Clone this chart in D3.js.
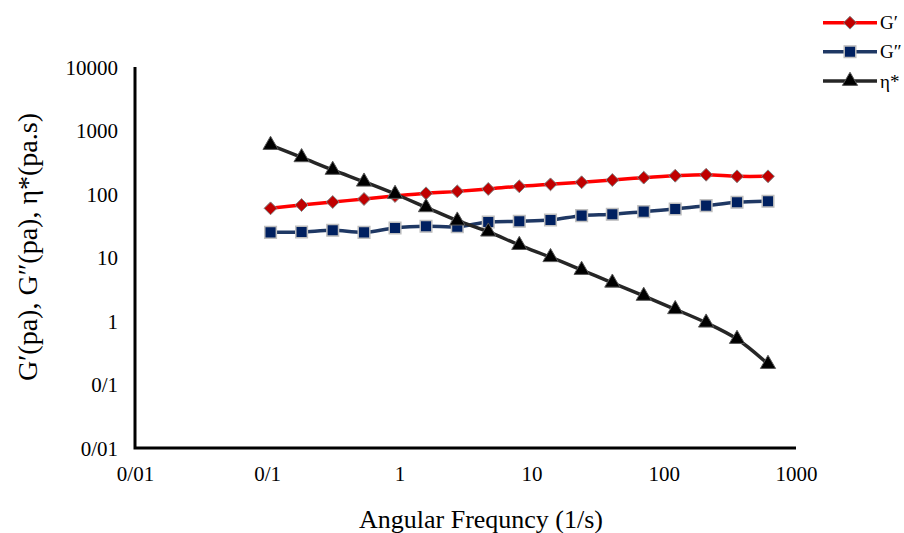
<!DOCTYPE html>
<html>
<head>
<meta charset="utf-8">
<script src="https://cdn.jsdelivr.net/npm/d3@7"></script>
<style>
  html, body { margin: 0; padding: 0; background: #fff; }
  svg { display: block; }
  text { font-family: "Liberation Serif", "Times New Roman", serif; fill: #000; }
</style>
</head>
<body>
<svg id="chart" width="904" height="533"></svg>
<script>
// ---- data ----
const frequency = [0.106, 0.182, 0.313, 0.54, 0.927, 1.59, 2.74, 4.7, 8.07, 13.9, 23.9, 40.8, 70.5, 122, 209, 358, 614];
const gPrime = [59.5, 67.1, 74.8, 83.4, 93, 102.6, 110, 120, 132, 142, 153, 166, 181, 194, 201, 190, 190];
const gDoublePrime = [24.9, 25.2, 26.8, 24.9, 29.2, 31.0, 30.5, 36.2, 37.2, 39.0, 45.6, 47.9, 52.7, 58.0, 65.5, 74.0, 76.8];
const etaStar = [591, 378, 239, 156, 100, 61.7, 38, 25.5, 15.7, 10.1, 6.35, 4.0, 2.48, 1.53, 0.94, 0.52, 0.21];
const seriesNames = ["G\u2032", "G\u2033", "\u03b7*"];
const xTickValues = [0.01, 0.1, 1, 10, 100, 1000];
const xTickLabels = ["0/01", "0/1", "1", "10", "100", "1000"];
const yTickValues = [0.01, 0.1, 1, 10, 100, 1000, 10000];
const yTickLabels = ["0/01", "0/1", "1", "10", "100", "1000", "10000"];
const xTitle = "Angular Frequncy (1/s)";
const yTitle = "G\u2032(pa), G\u2033(pa), \u03b7*(pa.s)";

// ---- layout ----
const svg = d3.select("#chart");
const pLeft = 135, pRight = 796, pTop = 67, pBottom = 448;
const x = d3.scaleLog().domain([0.01, 1000]).range([pLeft, pRight]);
const y = d3.scaleLog().domain([0.01, 10000]).range([pBottom, pTop]);

const styles = [
  { values: gPrime, line: "#ff0000", fill: "#c00000", stroke: "#7f7f7f", shape: d3.symbolDiamond2, size: 105, sw: 1 },
  { values: gDoublePrime, line: "#1f3864", fill: "#002060", stroke: "#bfbfbf", shape: d3.symbolSquare, size: 135, sw: 1.5 },
  { values: etaStar, line: "#262626", fill: "#000000", stroke: "#595959", shape: d3.symbolTriangle, size: 100, sw: 1 }
];

// axes (labels only, no ticks)
const xAxis = d3.axisBottom(x).tickValues(xTickValues)
  .tickFormat((d, i) => xTickLabels[i]).tickSize(0).tickPadding(0);
const gx = svg.append("g").attr("transform", `translate(0,${pBottom})`).call(xAxis);
gx.select(".domain").remove();
gx.selectAll("text").attr("font-size", 21).attr("font-family", "Liberation Serif, Times New Roman, serif")
  .attr("dy", null).attr("y", 33).attr("fill", "#000");

const yAxis = d3.axisLeft(y).tickValues(yTickValues)
  .tickFormat((d, i) => yTickLabels[i]).tickSize(0).tickPadding(0);
const gy = svg.append("g").attr("transform", `translate(${pLeft},0)`).call(yAxis);
gy.select(".domain").remove();
gy.selectAll("text").attr("font-size", 21).attr("font-family", "Liberation Serif, Times New Roman, serif")
  .attr("x", -17).attr("dy", "0.35em").attr("fill", "#000");

// axis lines
svg.append("path")
  .attr("d", `M${pLeft},${pTop}V${pBottom}H${pRight}`)
  .attr("fill", "none").attr("stroke", "#000").attr("stroke-width", 3)
  .attr("stroke-linejoin", "miter");

// series
styles.forEach((s) => {
  const pts = frequency.map((f, i) => [x(f), y(s.values[i])]);
  svg.append("path")
    .attr("d", d3.line().curve(d3.curveCatmullRom.alpha(0.5))(pts))
    .attr("fill", "none").attr("stroke", s.line).attr("stroke-width", 3.5);
  svg.append("g").selectAll("path").data(pts).join("path")
    .attr("transform", d => `translate(${d[0]},${d[1]})`)
    .attr("d", d3.symbol().type(s.shape).size(s.size))
    .attr("fill", s.fill).attr("stroke", s.stroke).attr("stroke-width", s.sw);
});

// legend
const legendY = [22.7, 51.7, 81];
styles.forEach((s, i) => {
  const g = svg.append("g").attr("transform", `translate(0,${legendY[i]})`);
  g.append("line").attr("x1", 823).attr("x2", 877).attr("y1", 0).attr("y2", 0)
    .attr("stroke", s.line).attr("stroke-width", 3.5);
  g.append("path").attr("transform", "translate(850,0)")
    .attr("d", d3.symbol().type(s.shape).size(s.size))
    .attr("fill", s.fill).attr("stroke", s.stroke).attr("stroke-width", s.sw);
  g.append("text").attr("x", 880).attr("y", 0).attr("dy", "0.35em")
    .attr("font-size", 19).text(seriesNames[i]);
});

// titles
svg.append("text").attr("x", 481).attr("y", 528).attr("text-anchor", "middle")
  .attr("font-size", 26).text(xTitle);
svg.append("text").attr("transform", "translate(37,247) rotate(-90)")
  .attr("text-anchor", "middle").attr("font-size", 28).text(yTitle);
</script>
</body>
</html>
